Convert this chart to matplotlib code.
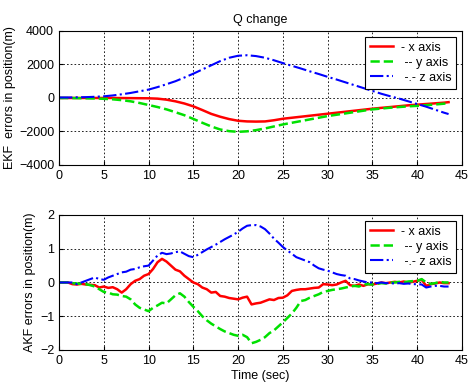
import numpy as np
import matplotlib
matplotlib.use('Agg')
import matplotlib.pyplot as plt

# EKF (top) - smooth curves, 1 s steps
t_ekf = list(range(0, 44)) + [43.5]
ekf_x = [0, 0, 0, 0, 0, 0, 0, -5, -10, -15,
         -20, -40, -100, -200, -330, -500, -720, -950, -1120, -1260,
         -1360, -1400, -1410, -1400, -1330, -1240, -1180, -1120, -1060, -1000,
         -940, -880, -820, -760, -700, -640, -590, -540, -490, -440,
         -400, -360, -320, -280, -250]
ekf_y = [0, -5, -10, -20, -30, -50, -80, -130, -200, -300,
         -420, -540, -680, -850, -1030, -1250, -1480, -1700, -1880, -1980,
         -2020, -1990, -1920, -1820, -1700, -1580, -1480, -1380, -1280, -1180,
         -1080, -1000, -920, -840, -760, -680, -630, -580, -540, -500,
         -470, -430, -390, -340, -310]
ekf_z = [30, 30, 40, 50, 70, 100, 150, 220, 300, 400,
         500, 650, 820, 1000, 1220, 1450, 1700, 1950, 2200, 2400,
         2520, 2550, 2500, 2400, 2250, 2080, 1920, 1760, 1590, 1430,
         1260, 1100, 930, 760, 590, 420, 250, 100, -40, -200,
         -360, -520, -700, -880, -960]

# AKF (bottom) - 0.5 s steps
t_akf = np.arange(0, 44, 0.5)
akf_x = [0.0, 0.0, 0.0, -0.05, -0.06, -0.04, -0.06, -0.07, -0.08, -0.15,
         -0.12, -0.16, -0.14, -0.2, -0.3, -0.2, -0.05, 0.05, 0.1, 0.2,
         0.25, 0.4, 0.6, 0.7, 0.62, 0.5, 0.38, 0.33, 0.2, 0.1,
         0.0, -0.05, -0.15, -0.2, -0.3, -0.28, -0.4, -0.42, -0.46, -0.48,
         -0.5, -0.45, -0.42, -0.65, -0.62, -0.6, -0.55, -0.5, -0.52, -0.46,
         -0.45, -0.38, -0.25, -0.22, -0.2, -0.2, -0.18, -0.16, -0.15, -0.05,
         -0.06, -0.08, -0.06, 0.0, 0.05, -0.08, -0.1, -0.06, -0.1, -0.05,
         -0.06, -0.03, 0.0, -0.02, 0.0, 0.02, 0.0, 0.03, 0.0, 0.02,
         0.05, 0.08, -0.1, -0.05, -0.03, 0.0, -0.02, -0.02]
akf_y = [0, 0, 0, -0.02, -0.03, -0.04, -0.05, -0.08, -0.12, -0.2,
         -0.28, -0.3, -0.35, -0.36, -0.4, -0.42, -0.5, -0.65, -0.75, -0.8,
         -0.85, -0.75, -0.68, -0.6, -0.62, -0.5, -0.38, -0.32, -0.42, -0.58,
         -0.72, -0.85, -1.0, -1.12, -1.22, -1.3, -1.38, -1.45, -1.5, -1.55,
         -1.58, -1.55, -1.62, -1.8, -1.76, -1.7, -1.62, -1.5, -1.42, -1.3,
         -1.18, -1.05, -0.92, -0.75, -0.55, -0.52, -0.45, -0.4, -0.35, -0.28,
         -0.25, -0.22, -0.2, -0.18, -0.15, -0.12, -0.1, -0.12, -0.06, -0.05,
         -0.06, -0.04, -0.02, -0.03, 0.0, 0.0, 0.02, 0.0, 0.03, 0.04,
         0.05, 0.1, 0.0, -0.04, -0.02, 0.02, 0.0, 0.0]
akf_z = [0, 0, 0, 0.0, -0.05, 0.0, 0.05, 0.1, 0.15, 0.1,
         0.08, 0.15, 0.2, 0.25, 0.3, 0.32, 0.38, 0.4, 0.45, 0.48,
         0.5, 0.65, 0.8, 0.88, 0.84, 0.86, 0.9, 0.92, 0.85, 0.78,
         0.75, 0.82, 0.9, 0.98, 1.05, 1.12, 1.2, 1.28, 1.35, 1.42,
         1.5, 1.6, 1.68, 1.7, 1.7, 1.66, 1.58, 1.45, 1.3, 1.18,
         1.05, 0.95, 0.85, 0.75, 0.7, 0.65, 0.6, 0.5, 0.42, 0.38,
         0.35, 0.3, 0.25, 0.22, 0.2, 0.12, 0.1, 0.06, 0.03, 0.0,
         0.0, -0.02, 0.0, -0.02, -0.02, -0.03, -0.02, -0.04, -0.03, -0.05,
         -0.05, -0.06, -0.15, -0.12, -0.1, -0.1, -0.12, -0.12]

labels = ['- x axis', ' -- y axis', ' -.- z axis']

plt.rcParams['font.family'] = ['Liberation Sans', 'DejaVu Sans']
plt.rcParams['font.size'] = 8.5

fig = plt.figure(figsize=(4.71, 3.83), dpi=100)
ax1 = fig.add_axes([0.1253, 0.5692, 0.8556, 0.35])
ax2 = fig.add_axes([0.1253, 0.0862, 0.8556, 0.3525])


def style(ax):
    ax.set_xlim(0, 45)
    ax.set_xticks(range(0, 50, 5))
    ax.grid(True, color='black', linestyle=(0, (2, 2.5)), linewidth=0.6)
    ax.tick_params(direction='in', length=3, labelsize=9)
    for s in ax.spines.values():
        s.set_linewidth(0.8)
    leg = ax.legend(loc='upper right', fancybox=False, edgecolor='black',
                    fontsize=9, handlelength=1.9, handletextpad=0.6,
                    borderaxespad=0.45, framealpha=1, labelspacing=0.25,
                    borderpad=0.4)
    leg.get_frame().set_linewidth(0.8)


ax1.plot(t_ekf, ekf_x, color='red', lw=1.8, ls='-', label=labels[0])
ax1.plot(t_ekf, ekf_y, color='#00e000', lw=1.8, ls='--', label=labels[1])
ax1.plot(t_ekf, ekf_z, color='blue', lw=1.5, ls='-.', label=labels[2])
ax1.set_ylim(-4000, 4000)
ax1.set_yticks([-4000, -2000, 0, 2000, 4000])
ax1.set_ylabel('EKF  errors in position(m)', fontsize=9, labelpad=2)
ax1.set_title('Q change', fontsize=9, pad=6)
style(ax1)

ax2.plot(t_akf, akf_x, color='red', lw=1.8, ls='-', label=labels[0])
ax2.plot(t_akf, akf_y, color='#00e000', lw=1.8, ls='--', label=labels[1])
ax2.plot(t_akf, akf_z, color='blue', lw=1.5, ls='-.', label=labels[2])
ax2.set_ylim(-2, 2)
ax2.set_yticks([-2, -1, 0, 1, 2])
ax2.set_ylabel('AKF errors in position(m)', fontsize=9, labelpad=3)
ax2.set_xlabel('Time (sec)', fontsize=9, labelpad=2)
style(ax2)

fig.savefig('out.png', dpi=100)
